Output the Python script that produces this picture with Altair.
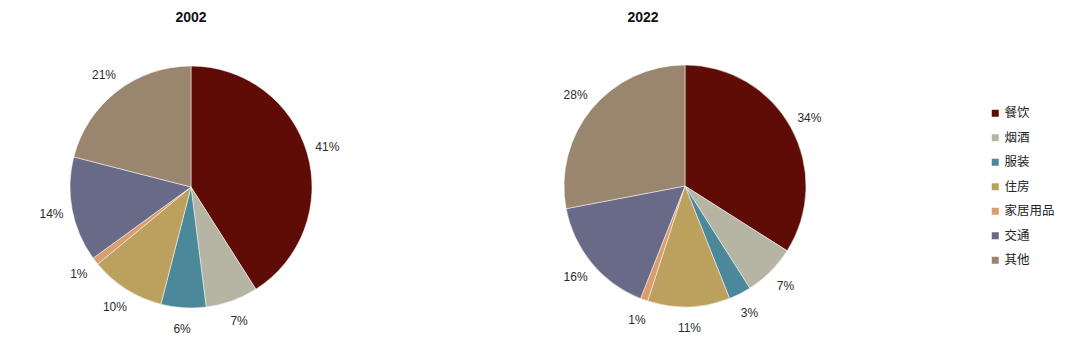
import altair as alt
import pandas as pd

categories = ["餐饮", "烟酒", "服装", "住房", "家居用品", "交通", "其他"]
share_2002 = [41, 7, 6, 10, 1, 14, 21]
share_2022 = [34, 7, 3, 11, 1, 16, 28]
years = ["2002", "2022"]
colors = ["#5F0C06", "#B6B5A4", "#4B889A", "#BCA15E", "#D99D6E", "#686A87", "#9A866E"]

rows = []
for year, vals in zip(years, [share_2002, share_2022]):
    for i, (c, v) in enumerate(zip(categories, vals)):
        rows.append({"year": year, "cat": c, "value": v, "idx": i, "label": f"{v}%"})
df = pd.DataFrame(rows)

color = alt.Color(
    "cat:N",
    scale=alt.Scale(domain=categories, range=colors),
    sort=categories,
    legend=alt.Legend(
        orient="none", legendX=989, legendY=107, title=None,
        symbolType="square", symbolSize=49, symbolStrokeWidth=0,
        labelFontSize=12.5, labelFont="Noto Sans CJK SC", labelColor="#222222",
        rowPadding=11.5, labelOffset=3, padding=0,
    ),
)

def pie(year, cx, cy):
    base = alt.Chart(df).transform_filter(alt.datum.year == year)
    arc = base.mark_arc(radius=121, stroke="white", strokeWidth=0.5).encode(
        theta=alt.Theta("value:Q", stack=True),
        color=color,
        order=alt.Order("idx:Q"),
        x=alt.value(cx), y=alt.value(cy),
    )
    txt = base.mark_text(radius=142, fontSize=12, font="Liberation Sans", color="#2a2a2a").encode(
        theta=alt.Theta("value:Q", stack=True),
        order=alt.Order("idx:Q"),
        text="label:N",
        x=alt.value(cx), y=alt.value(cy),
    )
    return arc, txt

a1, t1 = pie("2002", 191, 187)
a2, t2 = pie("2022", 685, 186)

tdf = pd.DataFrame({"t": years})
title1 = alt.Chart(tdf).transform_filter(alt.datum.t == "2002").mark_text(
    fontSize=14, fontWeight="bold", font="Liberation Sans", color="#111111"
).encode(text="t:N", x=alt.value(191), y=alt.value(18))
title2 = alt.Chart(tdf).transform_filter(alt.datum.t == "2022").mark_text(
    fontSize=14, fontWeight="bold", font="Liberation Sans", color="#111111"
).encode(text="t:N", x=alt.value(643), y=alt.value(18))

chart = alt.layer(a1, t1, a2, t2, title1, title2).properties(
    width=1080, height=346, padding=0,
    autosize=alt.AutoSizeParams(type="none"),
    background="white",
).configure_view(stroke=None)

chart.save("out.html", embed_options={"renderer": "svg", "actions": False})
